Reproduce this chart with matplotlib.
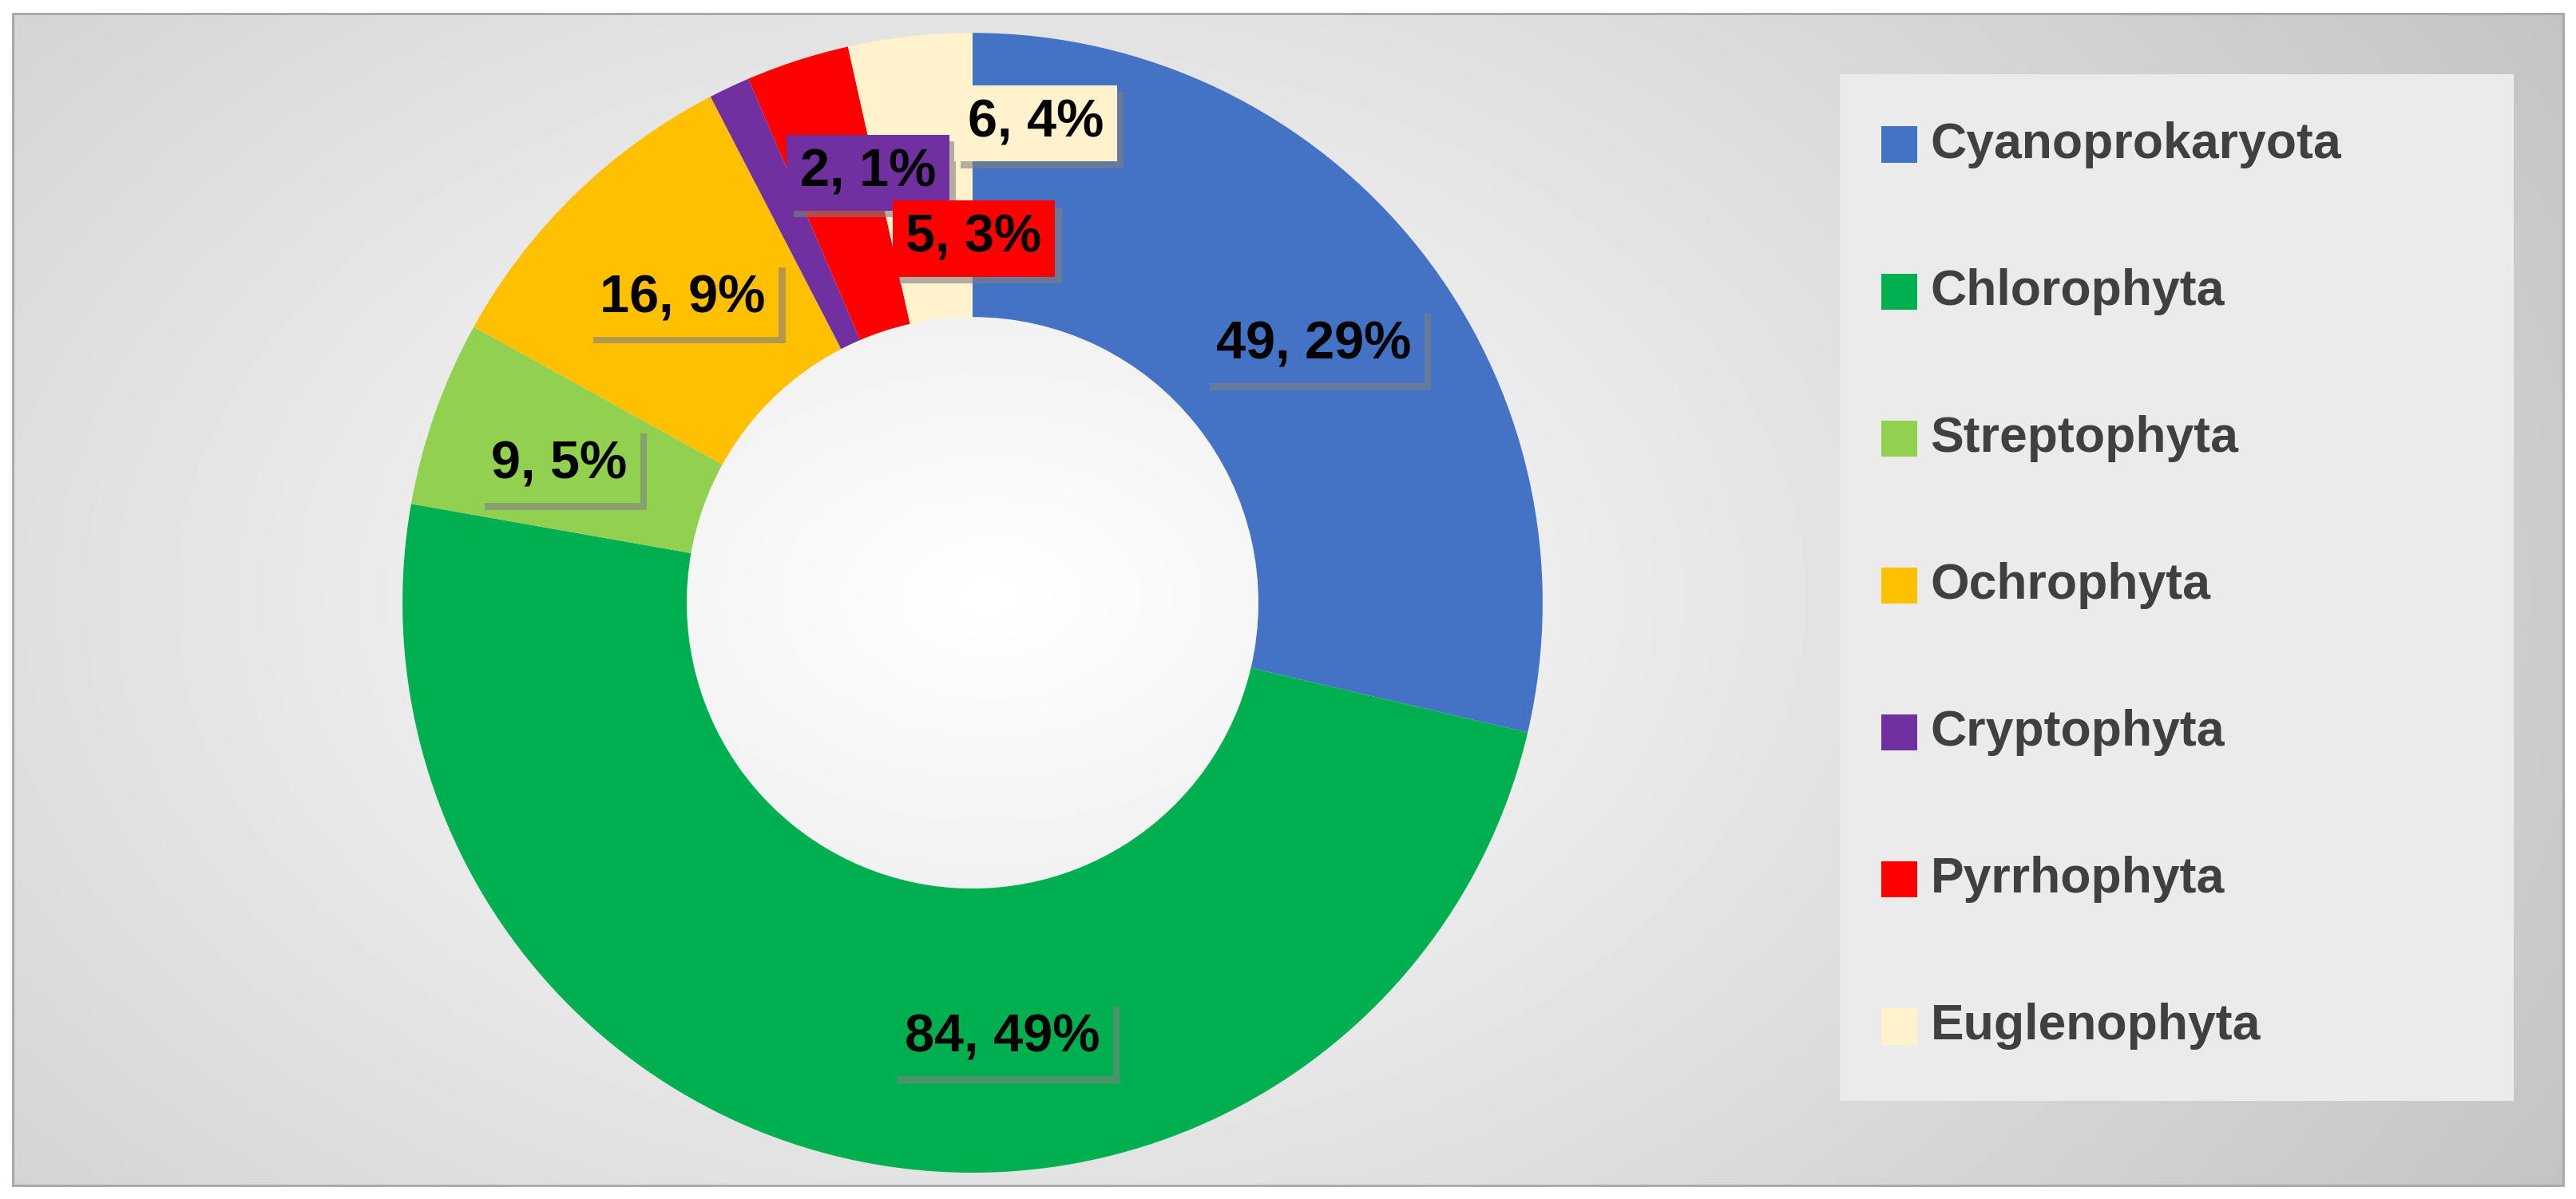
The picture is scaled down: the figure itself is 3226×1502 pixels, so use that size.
import numpy as np
import matplotlib.pyplot as plt
import matplotlib.patheffects as pe
from matplotlib.patches import Rectangle

plt.rcParams['font.family'] = ['Calibri', 'Liberation Sans', 'DejaVu Sans']

groups = ['Cyanoprokaryota', 'Chlorophyta', 'Streptophyta', 'Ochrophyta',
          'Cryptophyta', 'Pyrrhophyta', 'Euglenophyta']
counts = [49, 84, 9, 16, 2, 5, 6]
percents = [29, 49, 5, 9, 1, 3, 4]
colors = ['#4472c4', '#00b050', '#92d050', '#ffc000', '#7030a0', '#ff0000', '#fff2cc']
# label centres in axes fraction (as placed in the reference)
label_pos = [(0.510, 0.712), (0.389, 0.134), (0.217, 0.612), (0.265, 0.751),
             (0.337, 0.856), (0.378, 0.801), (0.402, 0.897)]

W, H = 1568, 730
fig = plt.figure(figsize=(32.26, 15.02), dpi=100)
ax = fig.add_axes([0, 0, 1, 1])

# radial grey background
yy, xx = np.mgrid[0:H:2, 0:W:2]
d = np.sqrt(((xx - 600) / 950.0) ** 2 + ((yy - 365) / 650.0) ** 2)
bg = np.clip(1.0 - 0.2 * d, 0.76, 1.0)
ax.imshow(bg, cmap='gray', vmin=0, vmax=1, extent=[8, W - 8, 8, H - 8],
          origin='lower', zorder=0, aspect='auto')
ax.add_patch(Rectangle((8, 8), W - 16, H - 16, fill=False, ec='#a6a6a6', lw=2, zorder=1))

wedges, _ = ax.pie(counts, colors=colors, startangle=90, counterclock=False,
                   center=(592, 363), radius=347, frame=True,
                   wedgeprops=dict(width=173, linewidth=0))
for w in wedges:
    w.set_zorder(2)
ax.set_xlim(0, W)
ax.set_ylim(0, H)
ax.axis('off')

for n, p, c, (x, y) in zip(counts, percents, colors, label_pos):
    t = ax.text(x, y, f'{n}, {p}%', transform=ax.transAxes, ha='center', va='center',
                fontsize=48, fontweight='bold', color='black', zorder=5,
                bbox=dict(boxstyle='square,pad=0.25', fc=c, ec='none'))
    t.get_bbox_patch().set_path_effects([
        pe.SimplePatchShadow(offset=(6, -6), shadow_rgbFace='#808080', alpha=0.6),
        pe.Normal()])

# legend
ax.add_patch(Rectangle((1120, 60), 410, 625, fc='#ebebeb', ec='none', zorder=3))
for i, (g, c) in enumerate(zip(groups, colors)):
    y = 642 - i * 89.5
    ax.add_patch(Rectangle((1145, y - 11), 22, 22, fc=c, ec='none', zorder=4))
    ax.text(1175, y, g, fontsize=45, fontweight='bold', color='#404040',
            va='center', ha='left', zorder=4)

fig.savefig('out.png', dpi=100)
